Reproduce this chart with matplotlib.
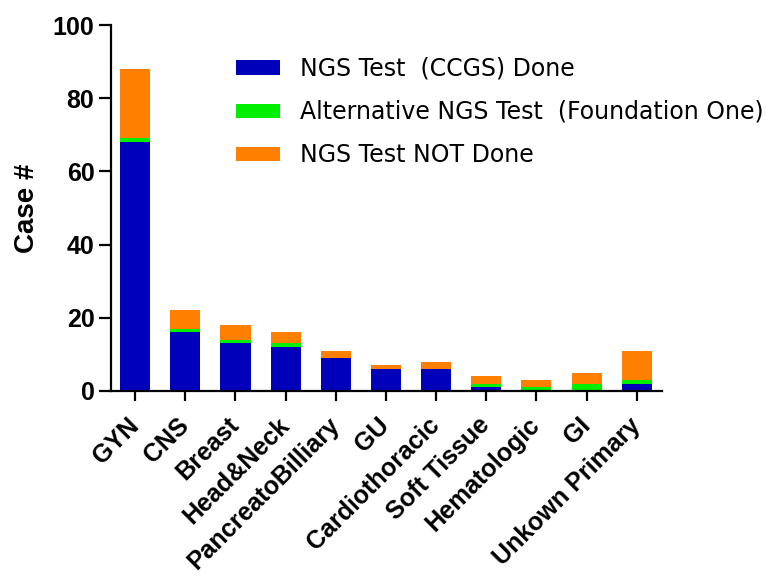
import matplotlib
matplotlib.use("Agg")
import matplotlib.pyplot as plt
import numpy as np

categories = ["GYN", "CNS", "Breast", "Head&Neck", "PancreatoBilliary", "GU",
              "Cardiothoracic", "Soft Tissue", "Hematologic", "GI", "Unkown Primary"]
ngs_done = [68, 16, 13, 12, 9, 6, 6, 1, 0, 0, 2]
alt_ngs = [1, 1, 1, 1, 0, 0, 0, 1, 1, 2, 1]
not_done = [19, 5, 4, 3, 2, 1, 2, 2, 2, 3, 8]
yticks = [0, 20, 40, 60, 80, 100]

plt.rcParams['font.family'] = ['Liberation Sans', 'DejaVu Sans']

fig = plt.figure(figsize=(7.66, 5.75), dpi=100)
ax = fig.add_axes([0.145, 0.32, 0.719, 0.6365])

x = np.arange(len(categories))
w = 0.6
b1 = ax.bar(x, ngs_done, w, color='#0000BB', label='NGS Test  (CCGS) Done')
b2 = ax.bar(x, alt_ngs, w, bottom=ngs_done, color='#00EE00',
            label='Alternative NGS Test  (Foundation One)')
bottom2 = np.array(ngs_done) + np.array(alt_ngs)
b3 = ax.bar(x, not_done, w, bottom=bottom2, color='#FF8000', label='NGS Test NOT Done')

ax.set_xlim(-0.48, len(categories) - 0.5)
ax.set_ylim(0, 100)
ax.set_yticks(yticks)
ax.set_xticks(x)
ax.set_xticklabels(categories, rotation=45, ha='right', va='center',
                   rotation_mode='anchor', fontsize=18, fontweight='bold')
for lab in ax.get_yticklabels():
    lab.set_fontsize(18)
    lab.set_fontweight('bold')
ax.set_ylabel('Case #', fontsize=20, fontweight='bold', labelpad=9)

for s in ['top', 'right']:
    ax.spines[s].set_visible(False)
for s in ['left', 'bottom']:
    ax.spines[s].set_linewidth(1.6)
ax.tick_params(axis='y', length=9, width=1.6, pad=3)
ax.tick_params(axis='x', length=7, width=1.6, pad=15)

leg = ax.legend(handles=[b1, b2, b3], loc='upper left', bbox_to_anchor=(0.227, 0.913),
                frameon=False, prop={'family': 'DejaVu Sans', 'size': 17},
                handlelength=1.85, handleheight=0.55, handletextpad=0.85,
                labelspacing=0.81, borderaxespad=0, borderpad=0)

fig.savefig('out.png', dpi=100)
